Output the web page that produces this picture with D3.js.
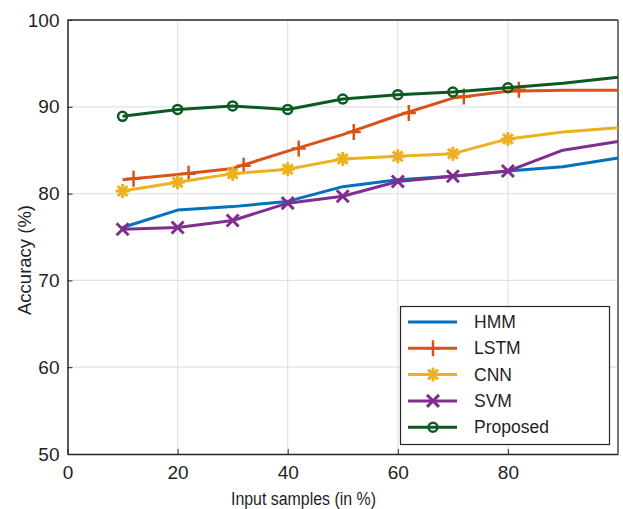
<!DOCTYPE html>
<html>
<head>
<meta charset="utf-8">
<script src="https://cdn.jsdelivr.net/npm/d3@7"></script>
<style>
  body { margin: 0; background: #fff; }
  svg text { font-family: "Liberation Sans", Arial, sans-serif; fill: #1f1f1f; }
</style>
</head>
<body>
<div id="chart"></div>
<script>

// data
const samples = [10, 20, 30, 40, 50, 60, 70, 80, 90, 100];
const hmm = [76.1, 78.1, 78.5, 79.1, 80.8, 81.6, 82.0, 82.6, 83.1, 84.1];
const lstm = [81.6, 82.2, 82.9, 84.9, 86.8, 89.0, 91.0, 91.8, 91.9, 91.9];
const cnn = [80.3, 81.3, 82.3, 82.8, 84.0, 84.3, 84.6, 86.3, 87.1, 87.6];
const svm = [75.9, 76.1, 76.9, 78.9, 79.7, 81.4, 82.0, 82.6, 85.0, 86.0];
const proposed = [88.9, 89.7, 90.1, 89.7, 90.9, 91.4, 91.7, 92.2, 92.7, 93.4];

// markers only on the first 8 samples; LSTM markers sit a bit to the right
const markerSamples = [10, 20, 30, 40, 50, 60, 70, 80];
const lstmMarkerSamples = [12, 22, 32, 42, 52, 62, 72, 82];
const lstmMarkers = [81.7, 82.3, 83.2, 85.2, 87.1, 89.3, 91.2, 91.95];

const xTicks = [0, 20, 40, 60, 80];
const yTicks = [50, 60, 70, 80, 90, 100];

const series = [
  { name: "HMM", values: hmm, color: "#0072BD", marker: "none" },
  { name: "LSTM", values: lstm, color: "#D95319", marker: "plus" },
  { name: "CNN", values: cnn, color: "#EDB120", marker: "star" },
  { name: "SVM", values: svm, color: "#7E2F8E", marker: "cross" },
  { name: "Proposed", values: proposed, color: "#0B5A22", marker: "circle" }
];

const width = 623, height = 509;
const margin = { top: 20, right: 5, bottom: 55, left: 67.5 };

const svg = d3.select("#chart").append("svg")
  .attr("width", width)
  .attr("height", height);

const x = d3.scaleLinear().domain([0, 100]).range([margin.left, width - margin.right]);
const y = d3.scaleLinear().domain([50, 100]).range([height - margin.bottom, margin.top]);

// grid
svg.append("g")
  .selectAll("line.gx")
  .data(xTicks.slice(1))
  .join("line")
  .attr("x1", d => x(d)).attr("x2", d => x(d))
  .attr("y1", y(50)).attr("y2", y(100))
  .attr("stroke", "#e3e3e3").attr("stroke-width", 1.2);

svg.append("g")
  .selectAll("line.gy")
  .data(yTicks.slice(1, -1))
  .join("line")
  .attr("x1", x(0)).attr("x2", x(100))
  .attr("y1", d => y(d)).attr("y2", d => y(d))
  .attr("stroke", "#e3e3e3").attr("stroke-width", 1.2);

// axes
const xAxis = svg.append("g")
  .attr("transform", "translate(0," + y(50) + ")")
  .call(d3.axisBottom(x).tickValues(xTicks).tickSizeInner(-5).tickSizeOuter(0).tickPadding(12));
const yAxis = svg.append("g")
  .attr("transform", "translate(" + x(0) + ",0)")
  .call(d3.axisLeft(y).tickValues(yTicks).tickSizeInner(-5).tickSizeOuter(0).tickPadding(8));

[xAxis, yAxis].forEach(a => {
  a.select(".domain").attr("stroke", "#262626").attr("stroke-width", 1.5);
  a.selectAll(".tick line").attr("stroke", "#262626").attr("stroke-width", 1);
  a.selectAll(".tick text").attr("font-size", 19).attr("fill", "#1f1f1f")
    .attr("font-family", "Liberation Sans, Arial, sans-serif");
});

// top and right box edges
svg.append("line")
  .attr("x1", x(0)).attr("x2", x(100))
  .attr("y1", y(100)).attr("y2", y(100))
  .attr("stroke", "#262626").attr("stroke-width", 1.5);
svg.append("line")
  .attr("x1", x(100)).attr("x2", x(100))
  .attr("y1", y(100)).attr("y2", y(50))
  .attr("stroke", "#777").attr("stroke-width", 2);

// axis labels
svg.append("text")
  .attr("x", 231).attr("y", 505)
  .attr("font-size", 18)
  .attr("textLength", 145)
  .attr("lengthAdjust", "spacingAndGlyphs")
  .text("Input samples (in %)");

svg.append("text")
  .attr("transform", "translate(31,260) rotate(-90)")
  .attr("text-anchor", "middle")
  .attr("font-size", 18.5)
  .text("Accuracy (%)");

// markers
function drawMarker(g, type, color, cx, cy) {
  if (type === "plus") {
    g.append("path")
      .attr("d", `M${cx - 7},${cy}H${cx + 7}M${cx},${cy - 8}V${cy + 8}`)
      .attr("stroke", color).attr("stroke-width", 2.5).attr("fill", "none");
  } else if (type === "star") {
    let d = "";
    for (let i = 0; i < 4; i++) {
      const a = i * Math.PI / 4;
      const dx = 7 * Math.cos(a), dy = 7 * Math.sin(a);
      d += `M${cx - dx},${cy - dy}L${cx + dx},${cy + dy}`;
    }
    g.append("path").attr("d", d)
      .attr("stroke", color).attr("stroke-width", 3).attr("fill", "none");
  } else if (type === "cross") {
    g.append("path")
      .attr("d", `M${cx - 6},${cy - 6}L${cx + 6},${cy + 6}M${cx - 6},${cy + 6}L${cx + 6},${cy - 6}`)
      .attr("stroke", color).attr("stroke-width", 3).attr("fill", "none");
  } else if (type === "circle") {
    g.append("circle")
      .attr("cx", cx).attr("cy", cy).attr("r", 4.5)
      .attr("stroke", color).attr("stroke-width", 2.5).attr("fill", "none");
  }
}

const line = d3.line()
  .x((d, i) => x(samples[i]))
  .y(d => y(d));

series.forEach(s => {
  const g = svg.append("g");
  g.append("path")
    .attr("d", line(s.values))
    .attr("fill", "none")
    .attr("stroke", s.color)
    .attr("stroke-width", 3)
    .attr("stroke-linejoin", "round");

  if (s.name === "LSTM") {
    lstmMarkerSamples.forEach((xs, i) => drawMarker(g, s.marker, s.color, x(xs), y(lstmMarkers[i])));
  } else {
    markerSamples.forEach((xs, i) => drawMarker(g, s.marker, s.color, x(xs), y(s.values[i])));
  }
});

// legend
const legend = svg.append("g");
legend.append("rect")
  .attr("x", 400.5).attr("y", 306.5)
  .attr("width", 209).attr("height", 138)
  .attr("fill", "#fff")
  .attr("stroke", "#262626").attr("stroke-width", 1.2);

series.forEach((s, i) => {
  const ly = 322 + i * 26.3;
  legend.append("line")
    .attr("x1", 408).attr("x2", 457)
    .attr("y1", ly).attr("y2", ly)
    .attr("stroke", s.color).attr("stroke-width", 3);
  drawMarker(legend, s.marker, s.color, 433, ly);
  legend.append("text")
    .attr("x", 474).attr("y", ly)
    .attr("dy", "0.35em")
    .attr("font-size", 17.5)
    .text(s.name);
});

</script>
</body>
</html>
